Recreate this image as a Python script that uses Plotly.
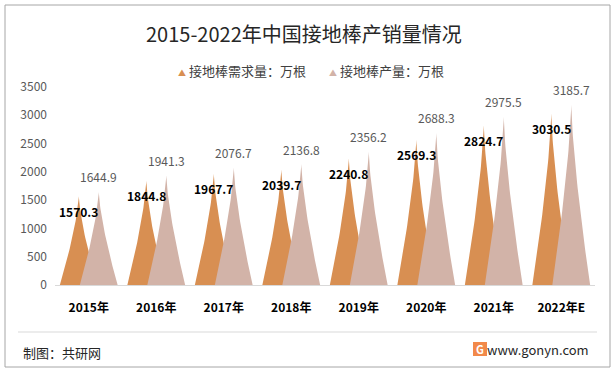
import numpy as np
import plotly.graph_objects as go

years = ["2015年", "2016年", "2017年", "2018年", "2019年", "2020年", "2021年", "2022年E"]
demand = [1570.3, 1844.8, 1967.7, 2039.7, 2240.8, 2569.3, 2824.7, 3030.5]
production = [1644.9, 1941.3, 2076.7, 2136.8, 2356.2, 2688.3, 2975.5, 3185.7]
y_ticks = [0, 500, 1000, 1500, 2000, 2500, 3000, 3500]

name_d = "接地棒需求量：万根"
name_p = "接地棒产量：万根"
col_d = "#D88F52"
col_p = "#D2B3A8"

W, H = 615, 372
ml, mr, mt, mb = 55, 20, 87, 87
pw, ph = W - ml - mr, H - mt - mb

OFF = 0.148
HW = 0.28
P = 1.4

FONT = "Microsoft YaHei, Noto Sans CJK SC, sans-serif"


def spike(xc, h):
    t = np.linspace(0, 1, 40)
    w = HW * (1 - t) ** P
    xs = np.concatenate([xc - w, (xc + w)[::-1], [xc - HW]])
    ys = np.concatenate([h * t, (h * t)[::-1], [0]])
    return xs, ys


fig = go.Figure()

for i, v in enumerate(demand):
    xs, ys = spike(i - OFF, v)
    fig.add_trace(go.Scatter(x=xs, y=ys, fill="toself", fillcolor=col_d, mode="lines",
                             line=dict(width=0, color=col_d), showlegend=False, hoverinfo="skip"))
for i, v in enumerate(production):
    xs, ys = spike(i + OFF, v)
    fig.add_trace(go.Scatter(x=xs, y=ys, fill="toself", fillcolor=col_p, mode="lines",
                             line=dict(width=0, color=col_p), showlegend=False, hoverinfo="skip"))


def px(x):
    return (x - ml) / pw


def py(y):
    return (H - mb - y) / ph


annotations = []
for i, v in enumerate(demand):
    annotations.append(dict(x=i - OFF, y=v, xref="x", yref="y", text=f"<b>{v:.1f}</b>",
                            showarrow=False, yshift=-15, xanchor="center", yanchor="middle",
                            font=dict(family=FONT, size=12, color="#000000")))
for i, v in enumerate(production):
    annotations.append(dict(x=i + OFF, y=v, xref="x", yref="y", text=f"{v:.1f}",
                            showarrow=False, yshift=15, xanchor="center", yanchor="middle",
                            font=dict(family=FONT, size=12, color="#595959")))

shapes = [
    dict(type="rect", xref="paper", yref="paper", x0=px(5), x1=px(610), y0=py(5), y1=py(367),
         line=dict(color="#A6A6A6", width=1), fillcolor="rgba(0,0,0,0)", layer="below"),
    dict(type="line", xref="paper", yref="paper", x0=px(18), x1=px(597), y0=py(332), y1=py(332),
         line=dict(color="#D9D9D9", width=1)),
    dict(type="rect", xref="paper", yref="paper", x0=px(473), x1=px(487), y0=py(342), y1=py(356),
         line=dict(width=0), fillcolor="#F2894A"),
]

annotations += [
    dict(text="2015-2022年中国接地棒产销量情况", xref="paper", yref="paper", x=px(304), y=py(33),
         showarrow=False, font=dict(family=FONT, size=20, color="#262626"),
         xanchor="center", yanchor="middle"),
    dict(text=f'<span style="color:{col_d};font-size:8px">▲</span> {name_d}', xref="paper", yref="paper",
         x=px(176), y=py(71), showarrow=False, font=dict(family=FONT, size=13, color="#404040"),
         xanchor="left", yanchor="middle"),
    dict(text=f'<span style="color:{col_p};font-size:8px">▲</span> {name_p}', xref="paper", yref="paper",
         x=px(327), y=py(71), showarrow=False, font=dict(family=FONT, size=13, color="#404040"),
         xanchor="left", yanchor="middle"),
    dict(text="制图：共研网", xref="paper", yref="paper", x=px(21), y=py(352), showarrow=False,
         font=dict(family=FONT, size=13, color="#262626"), xanchor="left", yanchor="middle"),
    dict(text="www.gonyn.com", xref="paper", yref="paper", x=px(591), y=py(349), showarrow=False,
         font=dict(family=FONT, size=13, color="#262626"), xanchor="right", yanchor="middle"),
    dict(text="<b>G</b>", xref="paper", yref="paper", x=px(480), y=py(349), showarrow=False,
         font=dict(family=FONT, size=11, color="#FFFFFF"), xanchor="center", yanchor="middle"),
]

fig.update_layout(
    width=W, height=H,
    margin=dict(l=ml, r=mr, t=mt, b=mb),
    paper_bgcolor="white", plot_bgcolor="white",
    font=dict(family=FONT),
    showlegend=False,
    shapes=shapes,
    annotations=annotations,
    xaxis=dict(range=[-0.5, len(years) - 0.5], tickvals=list(range(len(years))), ticktext=years,
               showgrid=False, zeroline=False, showline=True, linecolor="#D9D9D9", linewidth=1,
               ticks="", ticklabelstandoff=12,
               tickfont=dict(family=FONT, size=12, color="#000000", weight="bold"), fixedrange=True),
    yaxis=dict(range=[0, 3500], tickvals=y_ticks, showgrid=False, zeroline=False, showline=False,
               ticks="", ticklabelstandoff=7,
               tickfont=dict(family=FONT, size=12, color="#595959"), fixedrange=True),
)

fig.write_html("out.html", config={"displayModeBar": False},
               post_script="document.body.style.margin='0';document.body.style.overflow='hidden';")
